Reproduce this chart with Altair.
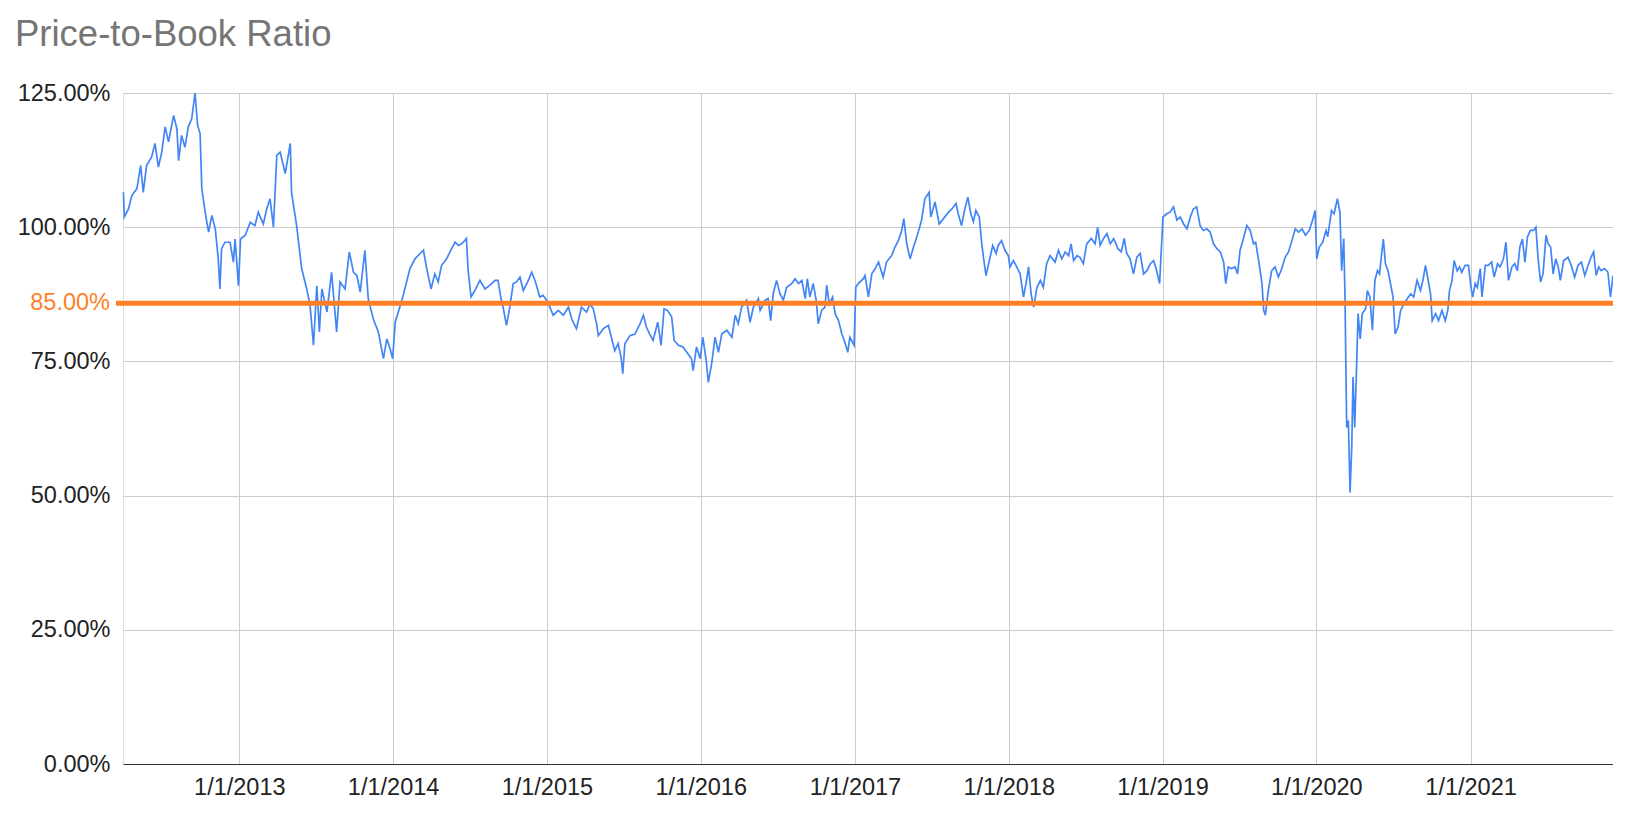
import altair as alt
import pandas as pd

# ---- data (Price-to-Book ratio, in %) ----
dates = [
    "2012-04-01", "2012-04-03", "2012-04-13", "2012-04-21", "2012-05-03", "2012-05-12", "2012-05-18", "2012-05-26",
    "2012-06-07", "2012-06-15", "2012-06-23", "2012-07-01", "2012-07-09", "2012-07-17", "2012-07-29", "2012-08-06",
    "2012-08-10", "2012-08-17", "2012-08-25", "2012-09-02", "2012-09-10", "2012-09-18", "2012-09-24", "2012-09-30",
    "2012-10-04", "2012-10-12", "2012-10-20", "2012-10-28", "2012-11-05", "2012-11-12", "2012-11-16", "2012-11-20",
    "2012-11-28", "2012-12-10", "2012-12-18", "2012-12-22", "2012-12-30", "2013-01-04", "2013-01-15", "2013-01-27",
    "2013-02-07", "2013-02-15", "2013-02-27", "2013-03-07", "2013-03-15", "2013-03-23", "2013-03-31", "2013-04-08",
    "2013-04-20", "2013-05-02", "2013-05-05", "2013-05-17", "2013-05-29", "2013-06-10", "2013-06-18", "2013-06-26",
    "2013-07-04", "2013-07-10", "2013-07-16", "2013-07-28", "2013-08-08", "2013-08-20", "2013-08-28", "2013-09-09",
    "2013-09-19", "2013-09-29", "2013-10-07", "2013-10-15", "2013-10-26", "2013-11-03", "2013-11-15", "2013-11-27",
    "2013-12-09", "2013-12-17", "2013-12-25", "2013-12-31", "2014-01-06", "2014-01-18", "2014-01-25", "2014-02-10",
    "2014-02-22", "2014-03-06", "2014-03-14", "2014-03-21", "2014-04-01", "2014-04-10", "2014-04-18", "2014-04-26",
    "2014-05-08", "2014-05-16", "2014-05-28", "2014-06-05", "2014-06-12", "2014-06-20", "2014-06-24", "2014-06-28",
    "2014-07-05", "2014-07-14", "2014-07-26", "2014-08-07", "2014-08-19", "2014-08-31", "2014-09-07", "2014-09-14",
    "2014-09-19", "2014-09-27", "2014-10-05", "2014-10-13", "2014-10-21", "2014-10-29", "2014-11-06", "2014-11-18",
    "2014-11-26", "2014-12-05", "2014-12-15", "2014-12-23", "2014-12-31", "2015-01-08", "2015-01-16", "2015-01-28",
    "2015-02-09", "2015-02-21", "2015-03-01", "2015-03-12", "2015-03-24", "2015-04-05", "2015-04-13", "2015-04-21",
    "2015-04-29", "2015-05-03", "2015-05-15", "2015-05-27", "2015-06-03", "2015-06-11", "2015-06-19", "2015-06-26",
    "2015-06-30", "2015-07-05", "2015-07-17", "2015-07-29", "2015-08-10", "2015-08-18", "2015-08-25", "2015-09-02",
    "2015-09-10", "2015-09-21", "2015-09-29", "2015-10-06", "2015-10-14", "2015-10-24", "2015-10-30", "2015-11-09",
    "2015-11-20", "2015-12-02", "2015-12-10", "2015-12-14", "2015-12-22", "2015-12-31", "2016-01-06", "2016-01-14",
    "2016-01-19", "2016-01-27", "2016-02-04", "2016-02-12", "2016-02-20", "2016-03-03", "2016-03-15", "2016-03-23",
    "2016-03-30", "2016-04-07", "2016-04-19", "2016-04-27", "2016-05-05", "2016-05-17", "2016-05-21", "2016-06-02",
    "2016-06-09", "2016-06-15", "2016-06-21", "2016-06-29", "2016-07-07", "2016-07-15", "2016-07-23", "2016-08-04",
    "2016-08-12", "2016-08-20", "2016-08-28", "2016-09-05", "2016-09-10", "2016-09-16", "2016-09-24", "2016-10-01",
    "2016-10-06", "2016-10-14", "2016-10-22", "2016-10-26", "2016-11-01", "2016-11-09", "2016-11-15", "2016-11-23",
    "2016-12-01", "2016-12-08", "2016-12-15", "2016-12-20", "2016-12-30", "2017-01-03", "2017-01-09", "2017-01-21",
    "2017-01-25", "2017-02-02", "2017-02-10", "2017-02-18", "2017-02-26", "2017-03-09", "2017-03-17", "2017-03-29",
    "2017-04-06", "2017-04-14", "2017-04-22", "2017-04-27", "2017-05-04", "2017-05-12", "2017-05-20", "2017-05-28",
    "2017-06-08", "2017-06-16", "2017-06-26", "2017-06-30", "2017-07-10", "2017-07-20", "2017-07-30", "2017-08-11",
    "2017-08-19", "2017-08-29", "2017-09-03", "2017-09-11", "2017-09-18", "2017-09-26", "2017-10-03", "2017-10-09",
    "2017-10-15", "2017-10-23", "2017-10-29", "2017-11-03", "2017-11-08", "2017-11-16", "2017-11-24", "2017-12-02",
    "2017-12-07", "2017-12-15", "2017-12-23", "2017-12-31", "2018-01-04", "2018-01-12", "2018-01-20", "2018-01-28",
    "2018-02-05", "2018-02-11", "2018-02-17", "2018-02-23", "2018-03-01", "2018-03-09", "2018-03-17", "2018-03-24",
    "2018-04-01", "2018-04-09", "2018-04-21", "2018-04-29", "2018-05-07", "2018-05-15", "2018-05-23", "2018-05-29",
    "2018-06-04", "2018-06-12", "2018-06-19", "2018-06-27", "2018-07-05", "2018-07-16", "2018-07-25", "2018-07-31",
    "2018-08-06", "2018-08-14", "2018-08-22", "2018-08-30", "2018-09-07", "2018-09-17", "2018-09-25", "2018-10-02",
    "2018-10-08", "2018-10-16", "2018-10-24", "2018-11-01", "2018-11-09", "2018-11-17", "2018-11-25", "2018-12-03",
    "2018-12-11", "2018-12-18", "2018-12-25", "2018-12-29", "2019-01-02", "2019-01-11", "2019-01-19", "2019-01-27",
    "2019-02-04", "2019-02-12", "2019-02-20", "2019-02-28", "2019-03-08", "2019-03-15", "2019-03-23", "2019-03-31",
    "2019-04-08", "2019-04-16", "2019-04-24", "2019-05-02", "2019-05-10", "2019-05-18", "2019-05-26", "2019-05-31",
    "2019-06-06", "2019-06-14", "2019-06-22", "2019-06-28", "2019-07-04", "2019-07-12", "2019-07-20", "2019-07-28",
    "2019-08-05", "2019-08-10", "2019-08-17", "2019-08-25", "2019-08-29", "2019-09-02", "2019-09-09", "2019-09-17",
    "2019-09-25", "2019-10-03", "2019-10-11", "2019-10-19", "2019-10-27", "2019-11-04", "2019-11-12", "2019-11-20",
    "2019-11-28", "2019-12-06", "2019-12-15", "2019-12-23", "2019-12-29", "2020-01-02", "2020-01-08", "2020-01-16",
    "2020-01-24", "2020-01-28", "2020-02-06", "2020-02-12", "2020-02-20", "2020-02-26", "2020-03-01", "2020-03-06",
    "2020-03-09", "2020-03-13", "2020-03-17", "2020-03-21", "2020-03-25", "2020-03-28", "2020-04-01", "2020-04-05",
    "2020-04-09", "2020-04-14", "2020-04-19", "2020-04-27", "2020-05-01", "2020-05-07", "2020-05-13", "2020-05-19",
    "2020-05-25", "2020-05-30", "2020-06-03", "2020-06-08", "2020-06-13", "2020-06-19", "2020-06-25", "2020-07-01",
    "2020-07-06", "2020-07-13", "2020-07-19", "2020-07-27", "2020-08-04", "2020-08-12", "2020-08-19", "2020-08-27",
    "2020-09-04", "2020-09-10", "2020-09-16", "2020-09-21", "2020-09-28", "2020-10-02", "2020-10-10", "2020-10-17",
    "2020-10-25", "2020-11-02", "2020-11-08", "2020-11-12", "2020-11-18", "2020-11-23", "2020-11-30", "2020-12-06",
    "2020-12-11", "2020-12-19", "2020-12-27", "2021-01-02", "2021-01-06", "2021-01-12", "2021-01-17", "2021-01-24",
    "2021-01-28", "2021-02-05", "2021-02-12", "2021-02-20", "2021-02-26", "2021-03-06", "2021-03-12", "2021-03-20",
    "2021-03-26", "2021-04-01", "2021-04-09", "2021-04-16", "2021-04-22", "2021-04-28", "2021-05-04", "2021-05-10",
    "2021-05-16", "2021-05-23", "2021-05-30", "2021-06-05", "2021-06-10", "2021-06-16", "2021-06-22", "2021-06-29",
    "2021-07-04", "2021-07-10", "2021-07-16", "2021-07-22", "2021-07-28", "2021-08-02", "2021-08-10", "2021-08-20",
    "2021-08-28", "2021-09-05", "2021-09-13", "2021-09-21", "2021-09-29", "2021-10-07", "2021-10-14", "2021-10-20",
    "2021-10-26", "2021-11-01", "2021-11-07", "2021-11-15", "2021-11-23", "2021-11-29", "2021-12-05",
]

ratio_pct = [
    106.5, 101.9, 103.4, 105.9, 107.2, 111.5, 106.5, 111.5,
    113.1, 115.6, 111.2, 114.0, 118.7, 115.9, 120.8, 118.3,
    112.4, 117.1, 114.9, 118.7, 120.2, 125.0, 119.0, 117.4,
    107.2, 102.8, 99.1, 102.2, 99.7, 94.1, 88.5, 96.0,
    97.2, 97.2, 93.5, 97.8, 89.1, 97.8, 98.5, 100.9,
    100.3, 102.8, 100.6, 103.4, 105.3, 100.0, 113.4, 114.0,
    110.0, 115.6, 106.5, 100.3, 92.3, 88.5, 85.4, 78.0,
    89.1, 80.5, 88.5, 84.2, 91.6, 80.5, 89.8, 88.5,
    95.4, 91.6, 91.0, 87.9, 95.7, 86.7, 82.9, 80.5,
    75.5, 79.2, 77.3, 75.5, 82.3, 85.4, 87.3, 92.3,
    94.1, 95.1, 95.7, 92.6, 88.5, 91.3, 89.8, 92.9,
    94.1, 95.4, 97.2, 96.6, 96.9, 97.5, 97.9, 92.0,
    87.0, 88.2, 90.1, 88.5, 89.2, 90.1, 90.1, 86.7,
    85.1, 81.7, 85.1, 89.5, 89.8, 90.7, 88.2, 90.1,
    91.6, 89.8, 87.0, 87.3, 86.4, 85.1, 83.6, 84.5,
    83.6, 85.1, 82.9, 81.1, 85.1, 84.2, 85.7, 84.8,
    82.0, 79.8, 81.1, 81.7, 79.5, 77.0, 78.3, 75.8,
    72.7, 78.3, 79.8, 80.1, 82.0, 83.6, 81.4, 80.1,
    78.9, 82.3, 78.0, 84.8, 84.5, 83.3, 78.9, 78.0,
    77.7, 76.4, 75.5, 73.3, 77.7, 75.5, 79.5, 75.2,
    71.1, 74.6, 79.5, 76.7, 80.1, 80.8, 79.5, 83.6,
    82.0, 85.1, 86.4, 82.3, 85.1, 86.7, 84.5, 86.4,
    86.7, 82.6, 87.6, 90.1, 87.6, 86.4, 88.8, 89.5,
    90.4, 89.5, 90.1, 86.7, 90.4, 87.0, 89.5, 86.4,
    82.0, 84.5, 85.1, 89.2, 85.7, 87.0, 83.9, 82.6,
    80.1, 78.6, 76.7, 79.5, 78.0, 88.8, 89.5, 90.4,
    91.0, 87.0, 91.3, 92.3, 93.5, 90.7, 93.5, 94.7,
    96.3, 97.5, 99.4, 101.6, 96.9, 94.1, 96.3, 98.2,
    101.3, 105.3, 106.5, 101.9, 104.7, 100.6, 101.6, 102.8,
    103.4, 104.4, 102.5, 100.3, 103.1, 105.6, 102.5, 101.0,
    103.1, 101.9, 96.9, 93.8, 91.0, 93.8, 96.6, 95.1,
    96.6, 97.5, 95.7, 94.7, 92.6, 93.8, 92.6, 91.3,
    87.0, 89.5, 92.6, 87.6, 85.1, 88.8, 90.1, 88.8,
    93.2, 94.7, 93.5, 95.7, 94.1, 95.4, 94.7, 96.9,
    93.8, 94.7, 94.4, 93.2, 96.9, 97.9, 96.9, 100.0,
    96.6, 97.9, 98.8, 96.9, 97.9, 96.0, 95.4, 97.9,
    95.1, 94.1, 91.3, 94.4, 95.1, 91.3, 91.9, 93.2,
    93.8, 91.9, 89.5, 95.7, 101.9, 102.5, 102.8, 103.8,
    101.3, 101.9, 100.6, 99.7, 101.9, 103.4, 103.8, 100.3,
    99.4, 99.7, 99.1, 96.9, 96.0, 95.4, 93.5, 89.5,
    92.6, 92.3, 92.6, 91.3, 95.7, 97.9, 100.3, 99.4,
    96.9, 97.2, 93.8, 89.5, 84.5, 83.6, 88.2, 91.9,
    92.6, 90.7, 92.3, 94.4, 95.4, 97.5, 99.7, 99.1,
    99.7, 98.5, 99.4, 101.3, 103.1, 94.1, 96.3, 97.2,
    99.4, 98.2, 103.1, 102.5, 105.3, 102.8, 91.9, 97.9,
    87.0, 62.7, 64.0, 50.6, 59.0, 72.1, 62.7, 72.7,
    83.9, 79.2, 83.9, 84.8, 88.2, 87.0, 80.8, 90.1,
    91.9, 91.3, 94.4, 97.8, 93.2, 91.9, 89.5, 87.0,
    80.1, 81.4, 84.5, 85.7, 86.7, 87.6, 87.0, 90.1,
    88.2, 90.1, 92.9, 90.7, 87.6, 82.6, 83.9, 82.6,
    84.5, 82.6, 84.5, 88.2, 90.1, 93.8, 91.9, 92.6,
    91.6, 92.9, 92.9, 88.8, 87.0, 89.5, 88.8, 92.3,
    87.0, 92.9, 92.9, 93.5, 90.7, 93.2, 92.6, 94.1,
    97.2, 90.1, 92.6, 93.2, 91.9, 96.3, 97.8, 93.5,
    98.2, 99.4, 99.4, 100.0, 94.4, 89.8, 91.3, 98.5,
    96.9, 96.3, 91.3, 94.1, 92.6, 90.1, 93.8, 94.4,
    92.9, 90.7, 92.9, 93.5, 91.0, 92.9, 94.4, 95.4,
    91.0, 92.6, 91.9, 92.3, 91.6, 87.0, 91.0,
]

reference_pct = [85.0]
reference_label = ["85.00%"]

y_tick_values = [0.0, 0.25, 0.50, 0.75, 1.00, 1.25]
x_tick_years = [2013, 2014, 2015, 2016, 2017, 2018, 2019, 2020, 2021]

assert len(dates) == len(ratio_pct)

df = pd.DataFrame({"date": dates, "ratio": [v / 100.0 for v in ratio_pct]})
ref_df = pd.DataFrame({"ref": [v / 100.0 for v in reference_pct], "label": reference_label})

W, H = 1490, 671
FONT = "Liberation Sans"
LABEL_SIZE = 23.5
ORANGE = "#ff7f26"
BLUE = "#4285f4"
REF_SHIFT = -4.5  # the reference line sits a few pixels above the 85% position in the original

x_scale = alt.Scale(
    type="utc",
    domain=[alt.DateTime(year=2012, month=3, date=31, utc=True),
            alt.DateTime(year=2021, month=12, date=5, utc=True)],
    nice=False,
)
y_scale = alt.Scale(domain=[0, 1.25], nice=False, zero=True)

x_axis = alt.Axis(
    values=[alt.DateTime(year=y, month=1, date=1, utc=True) for y in x_tick_years],
    labelExpr="utcFormat(datum.value, '%-m/%-d/%Y')",
    title=None,
    grid=True,
    gridColor="#cccccc",
    gridWidth=1,
    domain=True,
    domainColor="#333333",
    domainWidth=1,
    ticks=False,
    tickSize=0,
    labelPadding=11,
    labelFont=FONT,
    labelFontSize=LABEL_SIZE,
    labelColor="#222222",
    labelOverlap=False,
    labelFlush=False,
)

y_axis = alt.Axis(
    values=y_tick_values,
    format=".2%",
    title=None,
    grid=True,
    gridColor="#cccccc",
    gridWidth=1,
    domain=False,
    ticks=False,
    tickSize=0,
    labelPadding=13,
    labelFont=FONT,
    labelFontSize=LABEL_SIZE,
    labelColor="#222222",
    labelOverlap=False,
)

line = alt.Chart(df).mark_line(color=BLUE, strokeWidth=1.7).encode(
    x=alt.X("date:T", scale=x_scale, axis=x_axis),
    y=alt.Y("ratio:Q", scale=y_scale, axis=y_axis),
)

ref_rule = alt.Chart(ref_df).mark_rule(color=ORANGE, strokeWidth=5, yOffset=REF_SHIFT).encode(
    y=alt.Y("ref:Q", scale=y_scale),
    x=alt.value(-7),
    x2=alt.value(W),
)

ref_text = alt.Chart(ref_df).mark_text(
    color=ORANGE, font=FONT, fontSize=LABEL_SIZE, align="right", baseline="middle",
    yOffset=REF_SHIFT, dx=-13,
).encode(
    y=alt.Y("ref:Q", scale=y_scale),
    x=alt.value(0),
    text="label:N",
)

chart = (
    alt.layer(line, ref_rule, ref_text)
    .properties(
        width=W,
        height=H,
        title=alt.TitleParams(
            "Price-to-Book Ratio",
            anchor="start",
            frame="group",
            dx=-108,
            offset=28,
            font=FONT,
            fontSize=36.5,
            fontWeight="normal",
            color="#757575",
        ),
        autosize=alt.AutoSizeParams(type="none"),
        padding={"left": 115, "top": 85, "right": 0, "bottom": 45},
    )
    .configure_view(stroke=None)
    .configure(background="white")
)

chart.save("out.html", embed_options={"renderer": "svg", "actions": False})
